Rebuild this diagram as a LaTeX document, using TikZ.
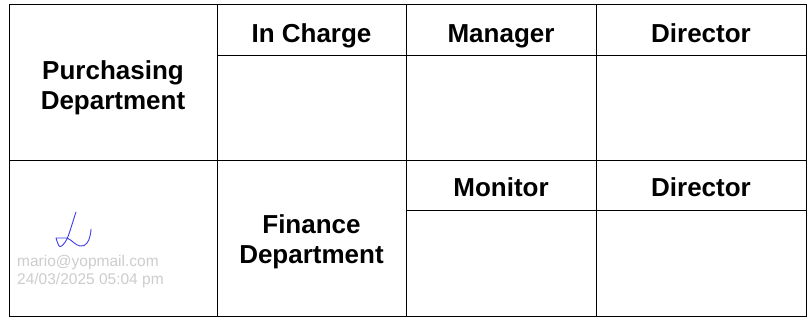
\documentclass[tikz,border=0pt]{standalone}
\usepackage{fontspec}
\setmainfont{Liberation Sans}
\usepackage{tikz}
\usetikzlibrary{positioning}
\definecolor{signblue}{RGB}{60,60,235}
\definecolor{stampgray}{RGB}{205,205,205}
\tikzset{
  cell/.style={rectangle,draw=black,line width=1pt,inner sep=0pt,align=center,
    font=\fontsize{26}{30}\selectfont\bfseries},
  head/.style={cell,text height=24pt,text depth=3pt},
  deptlabel/.style={inner sep=0pt,align=center,font=\fontsize{26}{30}\selectfont\bfseries},
  stamp/.style={align=left,inner sep=0pt,text=stampgray,
    font=\fontsize{15.5}{18}\selectfont}
}
\begin{document}
\begin{tikzpicture}[x=1pt,y=-1pt]
\useasboundingbox[fill=white] (0,0) rectangle (811,320);
% upper block
\node at (113,83)[cell,minimum width=208,minimum height=156](pur){};
\node at (113,88)[deptlabel](pur-t){Purchasing\\Department};
\node at (311.5,30.5)[cell,minimum width=189,minimum height=51](incharge){};
\node at (501,30.5)[cell,minimum width=190,minimum height=51](manager){};
\node at (701,30.5)[cell,minimum width=210,minimum height=51](director){};
\node at (311.5,32.5)[head,draw=none](incharge-t){In Charge};
\node at (501,32.5)[head,draw=none](manager-t){Manager};
\node at (701,32.5)[head,draw=none](director-t){Director};
\node at (311.5,108.5)[cell,minimum width=189,minimum height=105](incharge-s){};
\node at (501,108.5)[cell,minimum width=190,minimum height=105](manager-s){};
\node at (701,108.5)[cell,minimum width=210,minimum height=105](director-s){};
% lower block
\node at (113,238.5)[cell,minimum width=208,minimum height=155](sign){};
\node at (311.5,238.5)[cell,minimum width=189,minimum height=155](fin){};
\node at (311.5,241.5)[deptlabel](fin-t){Finance\\Department};
\node at (501,186)[head,minimum width=190,minimum height=50](monitor){Monitor};
\node at (701,186)[head,minimum width=210,minimum height=50](director2){Director};
\node at (501,263.5)[cell,minimum width=190,minimum height=105](monitor-s){};
\node at (701,263.5)[cell,minimum width=210,minimum height=105](director2-s){};
% signature
\draw[signblue,line width=0.9pt,line cap=round,line join=round]
  (76,212) .. controls (72,224) and (70,232) .. (67,239)
  .. controls (64,245) and (60,248) .. (59,246)
  .. controls (58,243) and (56,240) .. (56,238)
  -- (67,238)
  .. controls (72,240) and (75,245) .. (80,246)
  .. controls (86,247) and (89,241) .. (90,236)
  .. controls (91,233) and (91,230) .. (91,229);
\node at (17,271)[stamp,anchor=west](stampnode){mario@yopmail.com\\24/03/2025 05:04 pm};
\end{tikzpicture}
\end{document}
